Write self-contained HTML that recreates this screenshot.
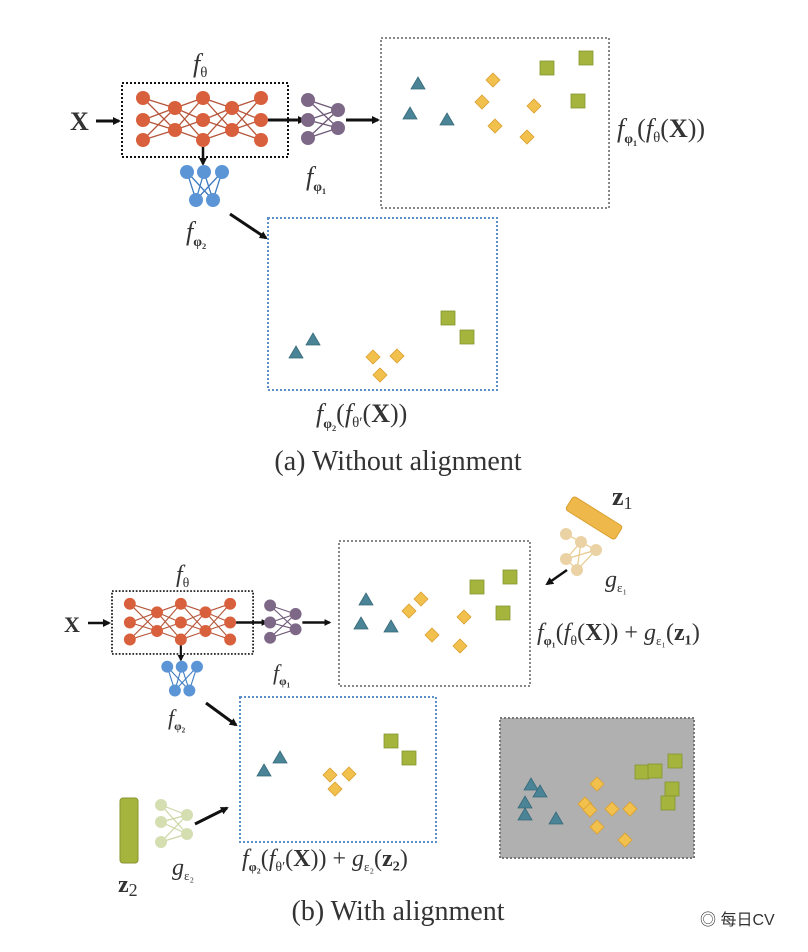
<!DOCTYPE html>
<html><head><meta charset="utf-8"><style>
html,body{margin:0;padding:0;background:#fff}
svg{display:block}
text{font-family:"Liberation Serif",serif;fill:#333}
</style></head><body>
<svg width="808" height="952" viewBox="0 0 808 952" xmlns="http://www.w3.org/2000/svg">
<defs>
<marker id="ah" markerWidth="8" markerHeight="8" refX="6" refY="4" orient="auto" markerUnits="userSpaceOnUse"><path d="M0,0 L8,4 L0,8 z" fill="#111"/></marker>
<g id="tri"><path d="M0,-7 L7,5 L-7,5 z" fill="#4a8496" stroke="#356a7a" stroke-width="0.8"/></g>
<g id="dia"><path d="M0,-7 L7,0 L0,7 L-7,0 z" fill="#f2c04c" stroke="#d9a030" stroke-width="0.8"/></g>
<g id="sq"><rect x="-7" y="-7" width="14" height="14" fill="#a4b43c" stroke="#879630" stroke-width="0.8"/></g>
<g id="net">
  <rect x="122" y="83" width="166" height="74" fill="none" stroke="#111" stroke-width="2" stroke-dasharray="2,2"/>
  <g stroke="#b5553a" stroke-width="1.3">
    <path d="M143,98L175,108M143,98L175,130M143,120L175,108M143,120L175,130M143,140L175,108M143,140L175,130
    M175,108L203,98M175,108L203,120M175,108L203,140M175,130L203,98M175,130L203,120M175,130L203,140
    M203,98L232,108M203,98L232,130M203,120L232,108M203,120L232,130M203,140L232,108M203,140L232,130
    M232,108L261,98M232,108L261,120M232,108L261,140M232,130L261,98M232,130L261,120M232,130L261,140"/>
  </g>
  <g fill="#d9603c">
    <circle cx="143" cy="98" r="7"/><circle cx="143" cy="120" r="7"/><circle cx="143" cy="140" r="7"/>
    <circle cx="175" cy="108" r="7"/><circle cx="175" cy="130" r="7"/>
    <circle cx="203" cy="98" r="7"/><circle cx="203" cy="120" r="7"/><circle cx="203" cy="140" r="7"/>
    <circle cx="232" cy="108" r="7"/><circle cx="232" cy="130" r="7"/>
    <circle cx="261" cy="98" r="7"/><circle cx="261" cy="120" r="7"/><circle cx="261" cy="140" r="7"/>
  </g>
  <line x1="268" y1="120" x2="304" y2="120" stroke="#111" stroke-width="3" marker-end="url(#ah)"/>
  <line x1="203" y1="147" x2="203" y2="164" stroke="#111" stroke-width="2.5" marker-end="url(#ah)"/>
  <g stroke="#6e5a78" stroke-width="1.3"><path d="M308,100L338,110M308,100L338,128M308,120L338,110M308,120L338,128M308,138L338,110M308,138L338,128"/></g>
  <g fill="#7d6888"><circle cx="308" cy="100" r="7"/><circle cx="308" cy="120" r="7"/><circle cx="308" cy="138" r="7"/><circle cx="338" cy="110" r="7"/><circle cx="338" cy="128" r="7"/></g>
  <line x1="346" y1="120" x2="378" y2="120" stroke="#111" stroke-width="3" marker-end="url(#ah)"/>
  <g stroke="#3f7cc0" stroke-width="1.3"><path d="M187,172L196,200M187,172L213,200M204,172L196,200M204,172L213,200M222,172L196,200M222,172L213,200"/></g>
  <g fill="#5b95d6"><circle cx="187" cy="172" r="7"/><circle cx="204" cy="172" r="7"/><circle cx="222" cy="172" r="7"/><circle cx="196" cy="200" r="7"/><circle cx="213" cy="200" r="7"/></g>
</g>
</defs>

<!-- (a) -->
<use href="#net"/>
<text x="70" y="130" font-size="26" font-weight="bold" fill="#222">X</text>
<line x1="96" y1="121" x2="119" y2="121" stroke="#111" stroke-width="3" marker-end="url(#ah)"/>
<text x="193" y="72" font-size="26" font-style="italic">f<tspan font-size="15" dy="5" font-style="normal">θ</tspan></text>
<text x="306" y="185" font-size="26" font-style="italic">f<tspan font-size="14" dy="6" font-style="normal" font-weight="bold">φ₁</tspan></text>
<text x="186" y="240" font-size="26" font-style="italic">f<tspan font-size="14" dy="6" font-style="normal" font-weight="bold">φ₂</tspan></text>
<line x1="230" y1="214" x2="266" y2="238" stroke="#111" stroke-width="3" marker-end="url(#ah)"/>

<rect x="381" y="38" width="228" height="170" fill="none" stroke="#888" stroke-width="2" stroke-dasharray="2,2"/>
<use href="#tri" x="418" y="84"/><use href="#tri" x="410" y="114"/><use href="#tri" x="447" y="120"/>
<use href="#dia" x="493" y="80"/><use href="#dia" x="482" y="102"/><use href="#dia" x="534" y="106"/><use href="#dia" x="495" y="126"/><use href="#dia" x="527" y="137"/>
<use href="#sq" x="547" y="68"/><use href="#sq" x="586" y="58"/><use href="#sq" x="578" y="101"/>
<text x="617" y="137" font-size="26" font-style="italic">f<tspan font-size="14" dy="6" font-style="normal" font-weight="bold">φ₁</tspan><tspan dy="-6" font-style="normal">(</tspan>f<tspan font-size="15" dy="5" font-style="normal">θ</tspan><tspan dy="-5" font-style="normal">(<tspan font-weight="bold">X</tspan>))</tspan></text>

<rect x="268" y="218" width="229" height="172" fill="none" stroke="#5b8fc9" stroke-width="2" stroke-dasharray="2,2"/>
<use href="#tri" x="296" y="353"/><use href="#tri" x="313" y="340"/>
<use href="#dia" x="373" y="357"/><use href="#dia" x="397" y="356"/><use href="#dia" x="380" y="375"/>
<use href="#sq" x="448" y="318"/><use href="#sq" x="467" y="337"/>
<text x="316" y="422" font-size="26" font-style="italic">f<tspan font-size="14" dy="6" font-style="normal" font-weight="bold">φ₂</tspan><tspan dy="-6" font-style="normal">(</tspan>f<tspan font-size="15" dy="5" font-style="normal">θ′</tspan><tspan dy="-5" font-style="normal">(<tspan font-weight="bold">X</tspan>))</tspan></text>
<text x="398" y="470" font-size="28" text-anchor="middle">(a) Without alignment</text>

<!-- (b) -->
<use href="#net" transform="translate(8.3,520.5) scale(0.85)"/>
<text x="64" y="632" font-size="22" font-weight="bold" fill="#222">X</text>
<line x1="88" y1="623" x2="109" y2="623" stroke="#111" stroke-width="2.5" marker-end="url(#ah)"/>
<text x="176" y="582" font-size="24" font-style="italic">f<tspan font-size="14" dy="5" font-style="normal">θ</tspan></text>
<text x="273" y="680" font-size="22" font-style="italic">f<tspan font-size="12" dy="5" font-style="normal" font-weight="bold">φ₁</tspan></text>
<text x="168" y="725" font-size="22" font-style="italic">f<tspan font-size="12" dy="5" font-style="normal" font-weight="bold">φ₂</tspan></text>
<line x1="206" y1="703" x2="236" y2="725" stroke="#111" stroke-width="3" marker-end="url(#ah)"/>

<rect x="339" y="541" width="191" height="145" fill="none" stroke="#888" stroke-width="2" stroke-dasharray="2,2"/>
<use href="#tri" x="366" y="600"/><use href="#tri" x="361" y="624"/><use href="#tri" x="391" y="627"/>
<use href="#dia" x="421" y="599"/><use href="#dia" x="409" y="611"/><use href="#dia" x="464" y="617"/><use href="#dia" x="432" y="635"/><use href="#dia" x="460" y="646"/>
<use href="#sq" x="477" y="587"/><use href="#sq" x="510" y="577"/><use href="#sq" x="503" y="613"/>
<text x="537" y="640" font-size="24" font-style="italic">f<tspan font-size="13" dy="5" font-style="normal" font-weight="bold">φ₁</tspan><tspan dy="-5" font-style="normal">(</tspan>f<tspan font-size="14" dy="5" font-style="normal">θ</tspan><tspan dy="-5" font-style="normal">(<tspan font-weight="bold">X</tspan>)) + </tspan>g<tspan font-size="13" dy="5" font-style="normal">ε₁</tspan><tspan dy="-5" font-style="normal">(<tspan font-weight="bold">z₁</tspan>)</tspan></text>

<!-- z1 -->
<rect x="565" y="510" width="58" height="16" rx="3" fill="#eeb84a" stroke="#d9a030" transform="rotate(32 594 518)"/>
<text x="612" y="505" font-size="26" font-weight="bold">z<tspan font-weight="normal" font-size="18" dy="4">1</tspan></text>
<g stroke="#e8c98a" stroke-width="1.2"><path d="M566,534L581,542M566,534L596,550M581,542L566,559M596,550L566,559M581,542L577,570M566,559L577,570M596,550L577,570"/></g>
<g fill="#ead2a4"><circle cx="566" cy="534" r="6"/><circle cx="581" cy="542" r="6"/><circle cx="596" cy="550" r="6"/><circle cx="566" cy="559" r="6"/><circle cx="577" cy="570" r="6"/></g>
<line x1="567" y1="570" x2="547" y2="584" stroke="#111" stroke-width="2.5" marker-end="url(#ah)"/>
<text x="605" y="587" font-size="24" font-style="italic">g<tspan font-size="13" dy="5" font-style="normal">ε₁</tspan></text>

<rect x="240" y="697" width="196" height="145" fill="none" stroke="#5b8fc9" stroke-width="2" stroke-dasharray="2,2"/>
<use href="#tri" x="264" y="771"/><use href="#tri" x="280" y="758"/>
<use href="#dia" x="330" y="775"/><use href="#dia" x="349" y="774"/><use href="#dia" x="335" y="789"/>
<use href="#sq" x="391" y="741"/><use href="#sq" x="409" y="758"/>
<text x="242" y="866" font-size="24" font-style="italic">f<tspan font-size="13" dy="5" font-style="normal" font-weight="bold">φ₂</tspan><tspan dy="-5" font-style="normal">(</tspan>f<tspan font-size="14" dy="5" font-style="normal">θ′</tspan><tspan dy="-5" font-style="normal">(<tspan font-weight="bold">X</tspan>)) + </tspan>g<tspan font-size="13" dy="5" font-style="normal">ε₂</tspan><tspan dy="-5" font-style="normal">(<tspan font-weight="bold">z₂</tspan>)</tspan></text>

<!-- z2 -->
<rect x="120" y="798" width="18" height="65" rx="3" fill="#a4b43c" stroke="#879630"/>
<text x="118" y="892" font-size="24" font-weight="bold">z<tspan font-weight="normal" font-size="18" dy="4">2</tspan></text>
<g stroke="#cbd6a4" stroke-width="1.2"><path d="M161,805L187,815M161,805L187,834M161,822L187,815M161,822L187,834M161,842L187,815M161,842L187,834"/></g>
<g fill="#d5deb0"><circle cx="161" cy="805" r="6"/><circle cx="161" cy="822" r="6"/><circle cx="161" cy="842" r="6"/><circle cx="187" cy="815" r="6"/><circle cx="187" cy="834" r="6"/></g>
<line x1="195" y1="824" x2="227" y2="808" stroke="#111" stroke-width="3" marker-end="url(#ah)"/>
<text x="172" y="875" font-size="24" font-style="italic">g<tspan font-size="13" dy="5" font-style="normal">ε₂</tspan></text>

<!-- gray -->
<rect x="500" y="718" width="194" height="140" fill="#b0b0b0" stroke="#777" stroke-width="2" stroke-dasharray="2,2"/>
<use href="#tri" x="531" y="785"/><use href="#tri" x="540" y="792"/><use href="#tri" x="525" y="803"/><use href="#tri" x="525" y="815"/><use href="#tri" x="556" y="819"/>
<use href="#dia" x="597" y="784"/><use href="#dia" x="585" y="804"/><use href="#dia" x="590" y="810"/><use href="#dia" x="612" y="809"/><use href="#dia" x="630" y="809"/><use href="#dia" x="597" y="827"/><use href="#dia" x="625" y="840"/>
<use href="#sq" x="642" y="772"/><use href="#sq" x="655" y="771"/><use href="#sq" x="675" y="761"/><use href="#sq" x="672" y="789"/><use href="#sq" x="668" y="803"/>

<text x="398" y="920" font-size="28" text-anchor="middle">(b) With alignment</text>
<text x="700" y="925" font-size="16" style="font-family:'Liberation Sans','Noto Sans CJK SC',sans-serif" fill="#555">◎ 每日CV</text>
</svg>
</body></html>
